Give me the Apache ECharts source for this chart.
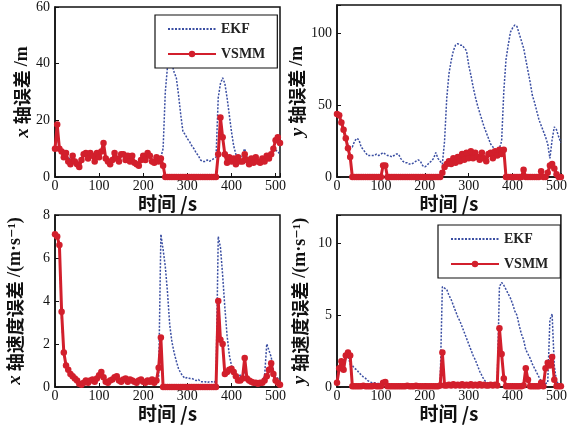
<!DOCTYPE html>
<html>
<head>
<meta charset="utf-8">
<script src="https://cdn.jsdelivr.net/npm/echarts@6/dist/echarts.min.js"></script>
<style>
  html, body { margin: 0; padding: 0; background: #fff; }
  #chart { width: 570px; height: 430px; }
</style>
</head>
<body>
<div id="chart"></div>
<script>
// time axis, s (one sample every 5 s)
const time = [
  0, 5, 10, 15, 20, 25, 30, 35, 40, 45,
  50, 55, 60, 65, 70, 75, 80, 85, 90, 95,
  100, 105, 110, 115, 120, 125, 130, 135, 140, 145,
  150, 155, 160, 165, 170, 175, 180, 185, 190, 195,
  200, 205, 210, 215, 220, 225, 230, 235, 240, 245,
  250, 255, 260, 265, 270, 275, 280, 285, 290, 295,
  300, 305, 310, 315, 320, 325, 330, 335, 340, 345,
  350, 355, 360, 365, 370, 375, 380, 385, 390, 395,
  400, 405, 410, 415, 420, 425, 430, 435, 440, 445,
  450, 455, 460, 465, 470, 475, 480, 485, 490, 495,
  500, 505, 510
]

// x position error, m
const xPosEkf = [
  10, 15, 10, 9, 8, 8, 7, 6, 7, 6,
  5, 5, 6, 7, 8, 7, 7.5, 7, 6.5, 7.5,
  7, 8.5, 10, 7, 6, 5, 6, 8, 7, 6,
  7, 7.5, 6.5, 7, 6, 7, 5.5, 5, 4.5, 6,
  7, 6.5, 8, 7, 6, 5.5, 6, 6, 7, 10,
  30, 39, 41, 40, 37, 35, 29, 22, 16, 15,
  13.5, 12.5, 11, 10, 8.5, 7.5, 6, 5.5, 5.5, 6,
  5.5, 6, 6.5, 7, 28, 33, 35, 33, 28, 22,
  16, 11, 8, 7, 7, 8, 10, 7, 6, 6.5,
  6, 7, 6.5, 6, 7, 7, 8, 8, 8, 9,
  9.5, 9, 8
]
const xPosVsmm = [
  10, 18.5, 10, 9, 7, 8.5, 5.5, 4.5, 7.5, 5.5,
  4.5, 3.5, 6, 8, 8.5, 6.5, 8.5, 7.5, 5.5, 8.5,
  7, 9, 12, 6.5, 5.5, 4.5, 6, 8.5, 6.5, 5.5,
  8, 8, 6, 7.5, 5.5, 7.5, 5, 4.5, 4, 6,
  7.5, 6, 8.5, 7.5, 5.5, 5, 7, 5.5, 6.5, 4,
  0, 0, 0, 0, 0, 0, 0, 0, 0, 0,
  0, 0, 0, 0, 0, 0, 0, 0, 0, 0,
  0, 0, 0, 0, 8, 21, 14, 8, 5, 7,
  5.5, 6.5, 4.5, 7, 5.5, 5.5, 8, 6, 4.5, 6.5,
  5, 7, 5.5, 5, 6.5, 5.5, 7.5, 6.5, 8, 10,
  13, 14, 12
]

// y position error, m
const yPosEkf = [
  44, 43, 38, 33, 27, 22, 21, 21, 25, 27,
  26, 21, 19, 17, 15, 15, 15, 15, 16, 15,
  16, 17, 16, 15, 15, 14, 15, 16, 16, 13,
  11, 10, 10, 9, 9, 10, 11, 12, 11, 8,
  7, 8, 10, 11, 13, 17, 13, 11, 9, 25,
  55, 72, 81, 88, 92, 93, 92, 92, 90, 88,
  78, 71, 63, 56, 50, 45, 40, 35, 31, 27,
  23, 21, 19, 19, 20, 25, 60, 82, 92, 101,
  104, 106, 105, 100, 95, 90, 82, 74, 66, 57,
  52, 46, 40, 36, 32, 28, 23, 13, 26, 35,
  33, 28, 24
]
const yPosVsmm = [
  44, 43, 38, 33, 27, 20, 14, 0, 0, 0,
  0, 0, 0, 0, 0, 0, 0, 0, 0, 0,
  0, 8, 8, 0, 0, 0, 0, 0, 0, 0,
  0, 0, 0, 0, 0, 0, 0, 0, 0, 0,
  0, 0, 0, 0, 0, 0, 0, 0, 3, 7,
  9, 11, 9, 13, 10, 14, 11, 16, 12, 17,
  13, 18, 13, 17, 14, 12, 17, 13, 11, 16,
  17, 13, 18, 15, 19, 16, 19, 0, 0, 0,
  0, 0, 0, 0, 0, 5, 0, 0, 0, 0,
  0, 0, 0, 4, 0, 0, 3, 8, 9, 6,
  2, 0, 0
]

// x velocity error, m/s
const xVelEkf = [
  7.1, 7.0, 6.5, 3.2, 1.6, 1.0, 0.8, 0.6, 0.5, 0.4,
  0.3, 0.2, 0.15, 0.2, 0.3, 0.25, 0.3, 0.3, 0.3, 0.35,
  0.5, 0.6, 0.45, 0.3, 0.25, 0.3, 0.35, 0.4, 0.45, 0.35,
  0.3, 0.3, 0.3, 0.3, 0.3, 0.3, 0.3, 0.25, 0.3, 0.3,
  0.3, 0.25, 0.3, 0.25, 0.3, 0.25, 0.3, 0.5, 7.1, 6.4,
  5.6, 4.4, 2.9, 2.1, 1.6, 1.2, 0.85, 0.65, 0.5, 0.4,
  0.45, 0.4, 0.4, 0.35, 0.3, 0.35, 0.25, 0.25, 0.25, 0.2,
  0.25, 0.25, 0.2, 0.3, 7.0, 6.5, 5.2, 3.7, 2.4, 1.5,
  1.0, 0.8, 0.6, 0.5, 0.55, 0.5, 0.7, 0.5, 0.3, 0.3,
  0.25, 0.2, 0.2, 0.25, 0.3, 0.5, 2.0, 1.7, 1.4, 0.8,
  0.5, 0.4, 0.3
]
const xVelVsmm = [
  7.1, 7.0, 6.6, 3.5, 1.6, 1.0, 0.8, 0.6, 0.5, 0.4,
  0.3, 0.15, 0.1, 0.2, 0.3, 0.2, 0.3, 0.35, 0.25, 0.4,
  0.55, 0.7, 0.45, 0.25, 0.2, 0.3, 0.35, 0.45, 0.5, 0.3,
  0.25, 0.35, 0.4, 0.25, 0.35, 0.3, 0.25, 0.2, 0.3, 0.35,
  0.25, 0.2, 0.3, 0.25, 0.35, 0.2, 0.3, 0.9, 2.3, 0,
  0, 0, 0, 0, 0, 0, 0, 0, 0, 0,
  0, 0, 0, 0, 0, 0, 0, 0, 0, 0,
  0, 0, 0, 0, 4.0, 2.2, 2.0, 0.6, 0.7, 0.8,
  0.85, 0.7, 0.5, 0.3, 0.3, 0.4, 1.35, 0.4, 0.3, 0.25,
  0.2, 0.2, 0.15, 0.2, 0.2, 0.3, 0.5, 0.8, 1.1, 0.6,
  0.3, 0.2, 0.1
]

// y velocity error, m/s
const yVelEkf = [
  0.3, 1.2, 1.6, 1.2, 2.0, 2.2, 1.6, 1.5, 1.3, 1.2,
  1.0, 0.85, 0.7, 0.6, 0.45, 0.35, 0.3, 0.3, 0.25, 0.25,
  0.25, 0.3, 0.3, 0.25, 0.2, 0.2, 0.15, 0.15, 0.2, 0.15,
  0.15, 0.2, 0.2, 0.15, 0.2, 0.25, 0.2, 0.15, 0.1, 0.15,
  0.2, 0.15, 0.1, 0.15, 0.12, 0.15, 0.1, 0.3, 7.0, 6.9,
  6.8, 6.4, 6.1, 5.7, 5.3, 4.9, 4.6, 4.2, 3.8, 3.4,
  3.0, 2.6, 2.2, 1.9, 1.5, 1.1, 0.8, 0.5, 0.35, 0.25,
  0.2, 0.25, 0.2, 0.3, 7.0, 7.3, 7.1, 6.8, 6.5, 6.2,
  5.8, 5.3, 5.0, 4.3, 3.7, 3.3, 2.6, 2.3, 2.0, 1.6,
  1.3, 1.0, 0.7, 0.4, 0.3, 0.25, 0.3, 4.7, 5.1, 1.5,
  0.4, 0.2, 0.2
]
const yVelVsmm = [
  0.3, 1.3, 1.8, 1.2, 2.2, 2.4, 2.2, 0.05, 0.05, 0.05,
  0.05, 0.05, 0.08, 0.05, 0.05, 0.05, 0.05, 0.08, 0.05, 0.05,
  0.05, 0.3, 0.35, 0.05, 0.05, 0.05, 0.05, 0.05, 0.05, 0.05,
  0.05, 0.05, 0.08, 0.05, 0.05, 0.05, 0.08, 0.05, 0.05, 0.05,
  0.05, 0.05, 0.05, 0.05, 0.05, 0.05, 0.05, 0.1, 2.4, 0.1,
  0.1, 0.15, 0.1, 0.2, 0.1, 0.15, 0.1, 0.2, 0.1, 0.15,
  0.1, 0.2, 0.1, 0.15, 0.1, 0.2, 0.1, 0.15, 0.1, 0.1,
  0.15, 0.1, 0.15, 0.1, 4.1, 2.3, 0.6, 0.05, 0.05, 0.05,
  0.05, 0.05, 0.05, 0.05, 0.05, 0.1, 1.3, 0.5, 0.05, 0.05,
  0.05, 0.05, 0.05, 0.3, 0.05, 1.3, 1.7, 1.5, 2.1, 0.5,
  0.05, 0.05, 0.05
]

const xTicks = [0, 100, 200, 300, 400, 500]

const EKF_COLOR = '#3a4ea2'
const VSMM_COLOR = '#d21f2c'
const SERIF = 'Liberation Serif'
const CJK = 'Noto Sans CJK SC'

const panels = [
  { ekf: xPosEkf, vsmm: xPosVsmm, yMax: 60, yStep: 20, yTicks: [0, 20, 40, 60],
    name: '{i|x} 轴误差 {r|/m}', gap: 21, grid: { left: 55, top: 5, width: 225, height: 172 } },
  { ekf: yPosEkf, vsmm: yPosVsmm, yMax: 120, yStep: 50, yTicks: [0, 50, 100],
    name: '{i|y} 轴误差 {r|/m}', gap: 26, grid: { left: 337, top: 5, width: 225, height: 172 } },
  { ekf: xVelEkf, vsmm: xVelVsmm, yMax: 8, yStep: 2, yTicks: [0, 2, 4, 6, 8],
    name: '{i|x} 轴速度误差 {r|/(m·s⁻¹)}', gap: 30, grid: { left: 55, top: 215, width: 225, height: 172 } },
  { ekf: yVelEkf, vsmm: yVelVsmm, yMax: 12, yStep: 5, yTicks: [0, 5, 10],
    name: '{i|y} 轴速度误差 {r|/(m·s⁻¹)}', gap: 27, grid: { left: 337, top: 215, width: 225, height: 172 } },
]

function pairs(vals) {
  return time.map((t, i) => [t, vals[i]])
}

const grid = []
const xAxis = []
const yAxis = []
const series = []

panels.forEach((p, k) => {
  grid.push({ ...p.grid, show: true, borderColor: '#111', borderWidth: 1.5, backgroundColor: '#fff' })
  xAxis.push({
    type: 'value', gridIndex: k, min: 0, max: 510, interval: 100,
    name: '时间 /s', nameLocation: 'middle', nameGap: 10,
    nameTextStyle: { fontFamily: CJK, fontSize: 19, fontWeight: 'bold', color: '#111',
      rich: { r: { fontFamily: SERIF, fontSize: 19, fontWeight: 'bold', color: '#111' } } },
    axisLine: { show: true, lineStyle: { color: '#111', width: 1.5 } },
    axisTick: { inside: true, length: 4, lineStyle: { color: '#111' } },
    axisLabel: { margin: 2, fontFamily: SERIF, fontSize: 14, color: '#111',
      formatter: v => (xTicks.includes(v) ? String(v) : '') },
    splitLine: { show: false },
  })
  yAxis.push({
    type: 'value', gridIndex: k, min: 0, max: p.yMax, interval: p.yStep,
    name: p.name, nameLocation: 'middle', nameGap: p.gap, nameRotate: 90,
    nameTextStyle: { fontFamily: CJK, fontSize: 18, fontWeight: 'bold', color: '#111',
      rich: {
        i: { fontFamily: SERIF, fontStyle: 'italic', fontSize: 19, fontWeight: 'bold', color: '#111' },
        r: { fontFamily: SERIF + ', DejaVu Serif', fontSize: 18, fontWeight: 'bold', color: '#111' },
      } },
    axisLine: { show: true, lineStyle: { color: '#111', width: 1.5 } },
    axisTick: { inside: true, length: 4, lineStyle: { color: '#111' } },
    axisLabel: { margin: 5, fontFamily: SERIF, fontSize: 14, color: '#111',
      formatter: v => (p.yTicks.includes(v) ? String(v) : '') },
    splitLine: { show: false },
  })
  series.push({
    name: 'EKF', type: 'line', xAxisIndex: k, yAxisIndex: k,
    data: pairs(p.ekf), symbol: 'none',
    lineStyle: { color: EKF_COLOR, width: 1.5, type: [2, 1.5] },
    itemStyle: { color: EKF_COLOR },
    z: 2,
  })
  series.push({
    name: 'VSMM', type: 'line', xAxisIndex: k, yAxisIndex: k,
    data: pairs(p.vsmm), symbol: 'circle', symbolSize: 6.5, showAllSymbol: true,
    lineStyle: { color: VSMM_COLOR, width: 3 },
    itemStyle: { color: VSMM_COLOR },
    z: 3,
  })
})

const legendBase = {
  orient: 'vertical', padding: [6, 12, 6, 12], itemGap: 9,
  itemWidth: 48, itemHeight: 8,
  backgroundColor: '#fff', borderColor: '#111', borderWidth: 1.2,
  textStyle: { fontFamily: SERIF, fontSize: 14, fontWeight: 'bold', color: '#222', height: 16, lineHeight: 16 },
  data: [
    { name: 'EKF', itemStyle: { color: 'rgba(0,0,0,0)', opacity: 0 } },
    'VSMM',
  ],
  selectedMode: false,
}

const chart = echarts.init(document.getElementById('chart'))
chart.setOption({
  animation: false,
  backgroundColor: '#fff',
  grid,
  xAxis,
  yAxis,
  legend: [
    { ...legendBase, left: 155, top: 15 },
    { ...legendBase, left: 438, top: 225 },
  ],
  series,
})
</script>
</body>
</html>
